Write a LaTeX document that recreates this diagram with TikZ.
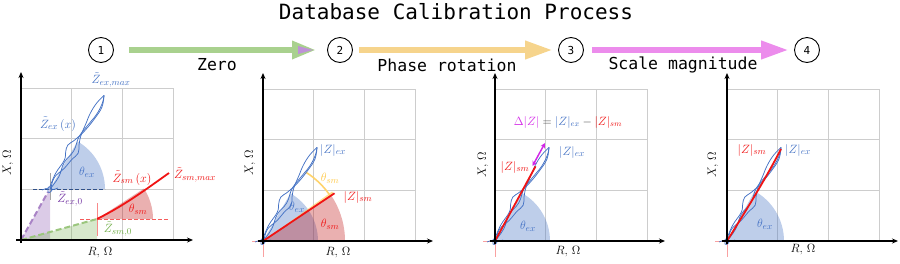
\documentclass[tikz,border=0pt]{standalone}
\usepackage{fontspec}
\newfontfamily\monofont{DejaVu Sans Mono}
\usetikzlibrary{arrows.meta,calc}
\definecolor{exblue}{RGB}{68,114,196}
\definecolor{smred}{RGB}{240,20,20}
\definecolor{zpurple}{RGB}{112,48,160}
\definecolor{zgreen}{RGB}{112,173,71}
\definecolor{thyellow}{RGB}{255,200,70}
\definecolor{dmag}{RGB}{210,40,230}
\definecolor{agreen}{RGB}{169,209,142}
\definecolor{ayellow}{RGB}{246,212,140}
\definecolor{apink}{RGB}{236,140,236}
\definecolor{apurple}{RGB}{190,145,215}
\definecolor{gridgray}{RGB}{205,205,205}
\definecolor{darktext}{RGB}{60,60,60}
\newcommand\lblsize{\fontsize{13}{15}\selectfont}
\newcommand\exstrands{%
 \draw[exc] plot[smooth,tension=0.7] coordinates {(0,0) (15,1.5) (30,-1) (45,1.5) (60,-1) (75,1) (88,3) (100,2.5) (108,0)};
 \draw[exc] plot[smooth,tension=0.7] coordinates {(0,1) (12,-2) (25,2) (36,4) (45,6.5) (53,3) (62,0) (74,-1.5) (86,-3) (98,-2.5) (108,0)};
 \draw[exc] plot[smooth,tension=0.7] coordinates {(1,-1) (16,-3) (32,-2) (40,-5) (47,-6.5) (55,-3) (68,1) (84,3.5) (97,4) (108,0)};
}
\newcommand\excurve[2]{%
 \begin{scope}[shift={(#1,#2)}]
  \draw[exc] (-8,1) .. controls (-3,-3) and (3,3) .. (8,-1);
  \draw[exc] (-2,2) .. controls (-4,-3) and (2,-4) .. (2,1) .. controls (1,4) and (-3,4) .. (-2,2);
  \begin{scope}[rotate=60]\exstrands\end{scope}
 \end{scope}}
\newcommand\panelgrid[3]{% name, ox, oy
 \foreach \i in {1,2,3}{
  \draw[gridline] (#2+50.67*\i,#3) -- (#2+50.67*\i,#3-152);
  \draw[gridline] (#2,#3-50.67*\i) -- (#2+152,#3-50.67*\i);
 }}
\begin{document}
\begin{tikzpicture}[x=1pt,y=-1pt,
  gridline/.style={draw=gridgray,line width=0.9},
  axis/.style={draw=black,line width=1.3,-{Stealth[length=6pt,width=5pt]}},
  exc/.style={draw=exblue,line width=0.75},
  smline/.style={draw=smred,line width=1.8},
  lbl/.style={font=\lblsize,inner sep=0},
  axlbl/.style={font=\fontsize{13}{15}\selectfont,inner sep=0},
  numc/.style={circle,draw=black,line width=0.9,minimum size=25pt,inner sep=0,font=\monofont\fontsize{11}{13}\selectfont},
  steplbl/.style={font=\monofont\fontsize{16.5}{18}\selectfont,inner sep=0},
  exsec/.style={fill=exblue,fill opacity=0.35},
  smsec/.style={fill=smred!80!black,fill opacity=0.33},
  bigarrow/.style={line width=6.5pt}
]
\useasboundingbox (0,0) rectangle (900,263);

% title and steps
\node[font=\monofont\fontsize{21}{24}\selectfont,inner sep=0] (title) at (456,12) {Database Calibration Process};
\node[numc] (c1) at (101,50) {1};
\node[numc] (c2) at (340,50) {2};
\node[numc] (c3) at (571,50) {3};
\node[numc] (c4) at (807,50) {4};
\draw[bigarrow,agreen,-{Triangle[length=24pt,width=17pt]}] ($(c1.east)+(15,0)$) -- ($(c2.west)+(-11,0)$);
\fill[apurple] (298,46) -- (313,50) -- (298,54) -- cycle;
\draw[bigarrow,ayellow,-{Triangle[length=28pt,width=17pt]}] ($(c2.east)+(6,0)$) -- ($(c3.west)+(-5,0)$);
\draw[bigarrow,apink,-{Triangle[length=28pt,width=17pt]}] ($(c3.east)+(8,0)$) -- ($(c4.west)+(-5,0)$);
\node[steplbl] (s1) at (217,65) {Zero};
\node[steplbl] (s2) at (447,65) {Phase rotation};
\node[steplbl] (s3) at (683,65) {Scale magnitude};

% ================= Panel 1
\coordinate (O1) at (21,240);
\coordinate (E0) at (50,189);
\coordinate (S0) at (97,219);
\panelgrid{p1}{21}{240}
\fill[zpurple,fill opacity=0.25] (O1) -- (E0) -- (50,240) -- cycle;
\fill[zgreen,fill opacity=0.28] (O1) -- (S0) -- (97,240) -- cycle;
\fill[exsec] (E0) -- ++(55,0) arc[start angle=0,end angle=-60,radius=55] -- cycle;
\fill[smsec] (S0) -- ++(56,0) arc[start angle=0,end angle=-33,radius=56] -- cycle;
\draw[exblue!70!black,dash pattern=on 4pt off 2pt,line width=0.9] (33,189) -- (105,189);
\draw[gray!70,line width=0.8] (50,173) -- (50,200);
\draw[smred!50,line width=0.9] (97,203) -- (97,236);
\draw[smred!70,dash pattern=on 4pt off 2pt,line width=0.8] (80,219) -- (168,219);
\draw[zpurple!60,line width=2,dash pattern=on 6pt off 3pt] (O1) -- (48,192);
\draw[zgreen!70,line width=2,dash pattern=on 6pt off 3pt] (O1) -- (S0);
\excurve{50}{189}
\coordinate (S1) at (169,173);
\draw[smline] (S0) .. controls (125,205) and (145,190) .. (S1);
\coordinate (a1x) at (193,240); \coordinate (a1y) at (21,72);
\draw[axis] (16,240) -- (a1x);
\draw[axis] (21,243) -- (a1y);
\node[axlbl,rotate=90] (x1) at (8,163) {$X,\,\Omega$};
\node[axlbl] (r1) at (100,253) {$R,\,\Omega$};
\node[lbl,text=exblue] (l1a) at (111,80) {$\tilde{Z}_{ex,max}$};
\node[lbl,text=exblue] (l1b) at (58,124) {$\tilde{Z}_{ex}\,(x)$};
\node[lbl,text=exblue] (l1c) at (87,172) {$\theta_{ex}$};
\node[lbl,text=zpurple] (l1d) at (70,199) {$\tilde{Z}_{ex,0}$};
\node[lbl,text=smred] (l1e) at (132,178) {$\tilde{Z}_{sm}\,(x)$};
\node[lbl,text=smred] (l1f) at (195,175) {$\tilde{Z}_{sm,max}$};
\node[lbl,text=smred] (l1g) at (138,209) {$\theta_{sm}$};
\node[lbl,text=zgreen] (l1h) at (118,229) {$\tilde{Z}_{sm,0}$};

% ================= Panel 2
\coordinate (O2) at (263,241);
\panelgrid{p2}{263}{241}
\fill[exsec] (O2) -- ++(55,0) arc[start angle=0,end angle=-60,radius=55] -- cycle;
\fill[smsec] (O2) -- ++(82,0) arc[start angle=0,end angle=-33.7,radius=82] -- cycle;
\fill[thyellow,fill opacity=0.6] (O2) -- ($(O2)+(-33.7:85)$) -- ($(O2)+(-35.6:85)$) -- cycle;
\draw[thyellow!80,line width=1.6] ($(O2)+(-34.5:81)$) arc[start angle=-34.5,end angle=-58,radius=81];
\draw[smred!40,line width=0.8] (263,233) -- (263,257) (252,241) -- (274,241);
\excurve{263}{241}
\coordinate (S2) at ($(O2)+(-33.7:86)$);
\draw[smline] (O2) -- (S2);
\coordinate (a2x) at (433,241); \coordinate (a2y) at (263,73);
\draw[axis] (258,241) -- (a2x);
\draw[axis] (263,244) -- (a2y);
\node[axlbl,rotate=90] (x2) at (250,163) {$X,\,\Omega$};
\node[axlbl] (r2) at (338,253) {$R,\,\Omega$};
\node[lbl,text=exblue] (l2a) at (333,150) {$|Z|_{ex}$};
\node[lbl,text=thyellow] (l2b) at (330,178) {$\theta_{sm}$};
\node[lbl,text=smred] (l2c) at (358,197) {$|Z|_{sm}$};
\node[lbl,text=exblue] (l2d) at (297,207) {$\theta_{ex}$};
\node[lbl,text=smred] (l2e) at (330,224) {$\theta_{sm}$};

% ================= Panel 3
\coordinate (O3) at (495,241);
\panelgrid{p3}{495}{241}
\fill[exsec] (O3) -- ++(55,0) arc[start angle=0,end angle=-61,radius=55] -- cycle;
\draw[smred!40,line width=0.8] (495,233) -- (495,257) (483,241) -- (507,241);
\excurve{495}{241}
\coordinate (S3) at ($(O3)+(-61.5:85)$);
\draw[smline] (O3) -- (S3);
\coordinate (d1) at (532.5,166); \coordinate (d2) at (545,143);
\draw[dmag,line width=1.5,{Stealth[length=5pt,width=5pt]}-{Stealth[length=5pt,width=5pt]}] (d1) -- (d2);
\coordinate (a3x) at (665,241); \coordinate (a3y) at (495,73);
\draw[axis] (490,241) -- (a3x);
\draw[axis] (495,244) -- (a3y);
\node[axlbl,rotate=90] (x3) at (483,165) {$X,\,\Omega$};
\node[axlbl] (r3) at (568,252) {$R,\,\Omega$};
\node[inner sep=0,font=\fontsize{12}{14}\selectfont,text=darktext] (l3a) at (568,122) {$\textcolor{dmag}{\Delta|Z|}=\textcolor{exblue}{|Z|_{ex}}-\textcolor{smred}{|Z|_{sm}}$};
\node[lbl,text=exblue] (l3b) at (572,152) {$|Z|_{ex}$};
\node[lbl,text=smred] (l3c) at (515,167) {$|Z|_{sm}$};
\node[lbl,text=exblue] (l3d) at (528,226) {$\theta_{ex}$};

% ================= Panel 4
\coordinate (O4) at (727,241);
\panelgrid{p4}{727}{241}
\fill[exsec] (O4) -- ++(57,0) arc[start angle=0,end angle=-61,radius=57] -- cycle;
\draw[smred!40,line width=0.8] (727,233) -- (727,257) (715,241) -- (739,241);
\excurve{727}{241}
\coordinate (S4) at (781,149);
\draw[smline] (O4) .. controls (745,212) and (765,180) .. (S4);
\coordinate (a4x) at (898,241); \coordinate (a4y) at (727,73);
\draw[axis] (722,241) -- (a4x);
\draw[axis] (727,244) -- (a4y);
\node[axlbl,rotate=90] (x4) at (713,165) {$X,\,\Omega$};
\node[axlbl] (r4) at (803,250) {$R,\,\Omega$};
\node[lbl,text=smred] (l4a) at (752,150) {$|Z|_{sm}$};
\node[lbl,text=exblue] (l4b) at (798,150) {$|Z|_{ex}$};
\node[lbl,text=exblue] (l4c) at (765,224) {$\theta_{ex}$};
\end{tikzpicture}
\end{document}
